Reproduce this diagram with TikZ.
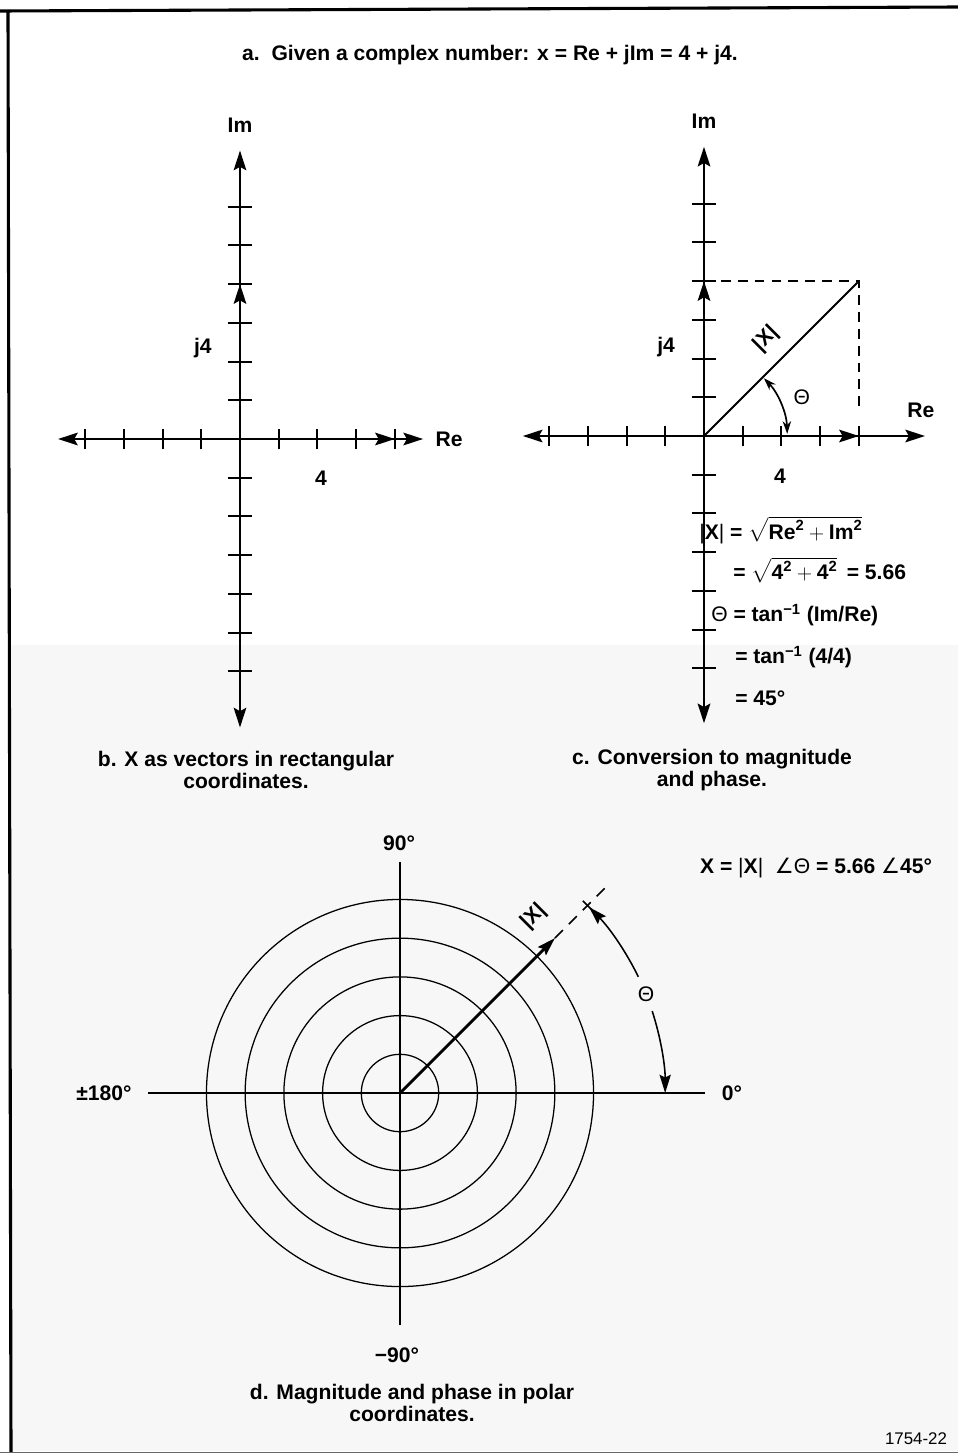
\documentclass[tikz,border=0pt]{standalone}
\usepackage{amsmath}
\usepackage{fontspec}
\setmainfont{Liberation Sans}
\newfontfamily\angfont{DejaVu Sans}
\usetikzlibrary{arrows.meta, positioning, calc}
\tikzset{
  axis/.style={line width=1.4pt,
               {Stealth[length=14pt, width=9pt, inset=2.5pt]}-{Stealth[length=14pt, width=9pt, inset=2.5pt]}},
  vec/.style={line width=1.4pt, -{Stealth[length=14pt, width=9pt, inset=2.5pt]}},
  tick/.style={line width=1.4pt},
  ring/.style={line width=0.9pt},
  guide/.style={line width=1.1pt, dash pattern=on 7pt off 5pt},
  capt/.style={align=center, inner sep=1pt},
  eqn/.style={anchor=west, inner sep=0pt},
}

\begin{document}
\begin{tikzpicture}[x=0.025cm, y=-0.025cm,
  every node/.style={font=\fontsize{15}{15.5}\selectfont\bfseries},
  ang/.style={line width=1.2pt,
              {Stealth[length=9pt, width=6pt]}-{Stealth[length=9pt, width=6pt]}},
  arcarr/.style={line width=1.1pt, -{Stealth[length=13pt, width=8pt, inset=2pt]}},
]
  \useasboundingbox (0,0) rectangle (958,1454);
  \fill[white] (0,0) rectangle (958,1454);
  \fill[black!3] (10,645) rectangle (958,1451);
  % frame
  \draw[line width=2.2pt] (0,11) -- (958,7);
  \draw[line width=2.2pt] (8,10) -- (11,1452);
  \draw[black!60, line width=1pt] (0,1452.5) -- (958,1452.5);

  \node (title) at (490,55) {a.\ \ Given a complex number: x = Re + jIm = 4 + j4.};

  % b. rectangular coordinates
  \begin{scope}[shift={(240,439)}, x=0.9675cm, y=0.9675cm]
    \coordinate (bO) at (0,0);
    \coordinate (bW) at (-4.7,0);
    \coordinate (bE) at (4.73,0);
    \coordinate (bN) at (0,7.45);
    \coordinate (bS) at (0,-7.45);
    \coordinate (bRe) at (4,0);
    \coordinate (bIm) at (0,4);
    \draw[axis] (bW) -- (bE);
    \draw[axis] (bS) -- (bN);
    \foreach \i in {-4,...,-1,1,2,3,4}
      \draw[tick] (\i,-0.27) -- (\i,0.27);
    \foreach \j in {-6,...,-1,1,2,...,6}
      \draw[tick] (-0.32,\j) -- (0.32,\j);
    \draw[vec] (bO) -- (bRe);
    \draw[vec] (bO) -- (bIm);
    \node (bImL) at (0,8.11) {Im};
    \node (bReL) at (5.4,0) {Re};
    \node (bfour) at (2.09,-1.01) {4};
    \node (bj) at (-0.96,2.35) {j4};
  \end{scope}
  \node[capt] (bcap) at (246,770) {b. X as vectors in rectangular\\coordinates.};

  % c. magnitude and phase
  \begin{scope}[shift={(704,436)}, x=0.9675cm, y=0.9675cm]
    \coordinate (cO) at (0,0);
    \coordinate (cW) at (-4.68,0);
    \coordinate (cE) at (5.71,0);
    \coordinate (cN) at (0,7.47);
    \coordinate (cS) at (0,-7.42);
    \coordinate (cRe) at (4,0);
    \coordinate (cIm) at (0,4);
    \coordinate (cX) at (4,4);
    \coordinate (cD) at (4,0.62);
    \draw[axis] (cW) -- (cE);
    \draw[axis] (cS) -- (cN);
    \foreach \i in {-4,...,-1,1,2,3,4}
      \draw[tick] (\i,-0.27) -- (\i,0.27);
    \foreach \j in {-6,...,-1,1,2,...,6}
      \draw[tick] (-0.32,\j) -- (0.32,\j);
    \draw[vec] (cO) -- (cRe);
    \draw[vec] (cO) -- (cIm);
    \draw[line width=1.3pt] (cO) -- (cX);
    \draw[guide] (cIm) -- (cX) -- (cD);
    \draw[ang] (44:2.15) arc[start angle=44, end angle=1.5, radius=2.15];
    \node[rotate=45] (cXl) at (1.6,2.5) {|X|};
    \node (cth) at (21.6:2.72) {\mdseries Θ};
    \node (cImL) at (0,8.14) {Im};
    \node (cReL) at (5.6,0.67) {Re};
    \node (cfour) at (1.96,-1.03) {4};
    \node (cj) at (-0.98,2.3) {j4};
  \end{scope}
  \node[eqn] (eq1) at (699,530) {{\mdseries|}X{\mdseries|} = $\sqrt{\text{Re}^{\text{2}} + \text{Im}^{\text{2}}}$};
  \node[eqn] (eq2) at (733,570) {= $\sqrt{\text{4}^{\text{2}} + \text{4}^{\text{2}}}$ \,= 5.66};
  \node[eqn] (eq3) at (711,615) {{\mdseries Θ} = tan\textsuperscript{−1} (Im/Re)};
  \node[eqn] (eq4) at (735,657) {= tan\textsuperscript{−1} (4/4)};
  \node[eqn] (eq5) at (735,698) {= 45°};
  \node[capt] (ccap) at (712,770) {c. Conversion to magnitude\\and phase.};

  % d. polar coordinates
  \begin{scope}[shift={(400,1093)}, x=0.9675cm, y=0.9675cm]
    \coordinate (dO) at (0,0);
    \coordinate (dW) at (-6.51,0);
    \coordinate (dE) at (7.88,0);
    \coordinate (dN) at (0,5.98);
    \coordinate (dS) at (0,-6.0);
    \coordinate (dX) at (45:5.66);
    \coordinate (dF) at (45:7.6);
    \coordinate (dT) at (45:6.85);
    \foreach \r in {1,...,5}
      \draw[ring] (dO) circle[radius=\r];
    \draw[line width=0.9pt] (dW) -- (dO);
    \draw[line width=1.6pt] (dO) -- (dE);
    \draw[line width=0.9pt] (dS) -- (dN);
    \draw[line width=2pt, -{Stealth[length=13pt, width=8pt, inset=2pt]}] (dO) -- (dX);
    \draw[guide, dash pattern=on 8pt off 6pt] (dX) -- (dF);
    \draw[line width=1.1pt] ($(dT)+(135:0.17)$) -- ($(dT)+(-45:0.17)$);
    \draw[arcarr] (26:6.85) arc[start angle=26, end angle=44.5, radius=6.85];
    \draw[arcarr] (18:6.85) arc[start angle=18, end angle=0, radius=6.85];
    \node (dth) at (21.8:6.85) {\mdseries Θ};
    \node[rotate=45] (dXl) at (3.45,4.56) {|X|};
  \end{scope}
  \node (d90) at (399,843) {90°};
  \node (dm90) at (397,1355) {−90°};
  \node (d180) at (104,1093) {±180°};
  \node (d0) at (732,1093) {0°};
  \node[anchor=east] (polar) at (937,868) {X = {\mdseries|}X{\mdseries|} \ {\angfont\mdseries ∠}{\mdseries Θ} = 5.66 {\angfont\mdseries ∠}45°};
  \node[capt] (dcap) at (412,1403) {d. Magnitude and phase in polar\\coordinates.};
  \node[font=\fontsize{12}{13}\selectfont] (figno) at (916,1439) {1754-22};
\end{tikzpicture}
\end{document}
